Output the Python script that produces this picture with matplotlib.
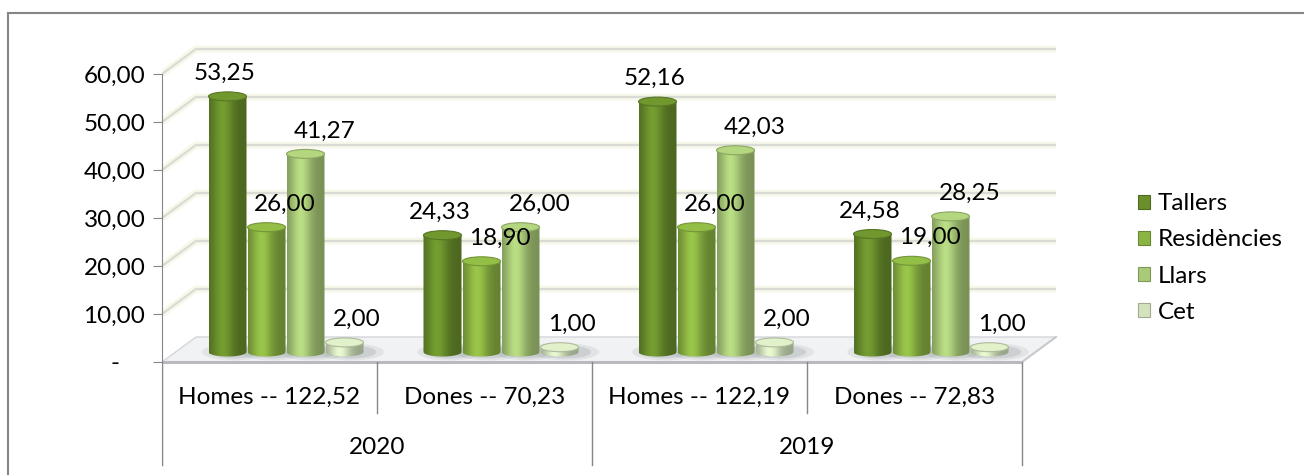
import numpy as np
import matplotlib
matplotlib.use("Agg")
import matplotlib.pyplot as plt
from matplotlib.patches import Ellipse, PathPatch, Patch, Polygon
from matplotlib.path import Path
from matplotlib.lines import Line2D
from matplotlib.colors import to_rgb

# data
categories = ["Homes -- 122,52", "Dones -- 70,23", "Homes -- 122,19", "Dones -- 72,83"]
years = ["2020", "2019"]
series = ["Tallers", "Residències", "Llars", "Cet"]
tallers = [53.25, 24.33, 52.16, 24.58]
residencies = [26.00, 18.90, 26.00, 19.00]
llars = [41.27, 26.00, 42.03, 28.25]
cet = [2.00, 1.00, 2.00, 1.00]
yticks = [0, 10, 20, 30, 40, 50, 60]
ytick_labels = ["-    ", "10,00", "20,00", "30,00", "40,00", "50,00", "60,00"]

values = [tallers, residencies, llars, cet]
colors = ["#6a8f2c", "#8cb443", "#a9ca78", "#d4e3be"]
label_dx = [-3, 18, 19, 12]   # px, label shift from bar centre

FS = 17.5
plt.rcParams['font.family'] = ['Lato', 'DejaVu Sans']
plt.rcParams['font.size'] = FS

W, H = 1304, 475
PX = 215.0   # px per category
PY = 4.8     # px per value unit
DX, DY = 34 / PX, 25 / PY          # 3d depth
BW, BS, BOFF = 38 / PX, 39 / PX, 16.5 / PX
B0, CAP = 10 / PY, 9 / PY
grey = "#868686"

fig = plt.figure(figsize=(W / 100, H / 100), dpi=100)
ax = fig.add_axes([162 / W, 1 - 468 / H, (1060 - 162) / W, 428 / H])
ax.set_xlim(0, (1060 - 162) / PX)
ax.set_ylim(-(468 - 362) / PY, (362 - 40) / PY)

# outer frame (top/left visible)
fig.add_artist(Line2D([8 / W, 8 / W], [0, 1 - 13 / H], transform=fig.transFigure, color=grey, lw=1.5))
fig.add_artist(Line2D([8 / W, 1], [1 - 13 / H, 1 - 13 / H], transform=fig.transFigure, color=grey, lw=1.5))

n = len(categories)

# floor
ax.add_patch(Polygon([(0, 0), (n, 0), (n + DX, DY), (DX, DY)], closed=True,
                     facecolor="#f1f2f4", edgecolor="#d4d6da", lw=1, zorder=1))
ax.plot([0, n], [0, 0], color="#b8babe", lw=2.2, zorder=2, solid_capstyle="butt")
ax.plot([n, n + DX], [0, DY], color="#c8cace", lw=1.5, zorder=2)

# walls gridlines
for v in yticks[1:]:
    xs = [0, DX, n + DX]
    ys = [v, v + DY, v + DY]
    ax.plot(xs, ys, color="#f7f8ea", lw=5, zorder=0.5, solid_capstyle="butt")
    ax.plot(xs, ys, color="#d9dbd5", lw=1.6, zorder=0.6, solid_capstyle="butt")


def shade(c, f):
    return np.clip(np.array(to_rgb(c)) * f, 0, 1)


t = np.linspace(0, 1, 64)
prof = 0.72 + 0.38 * np.exp(-((t - 0.36) / 0.28) ** 2)


def cylinder(xc, base, h, color):
    x0, x1 = xc - BW / 2, xc + BW / 2
    top = base + h
    # shadow
    for k, a in [(1.7, 0.12), (1.3, 0.18)]:
        ax.add_patch(Ellipse((xc + 7 / PX, base), BW * k, CAP * k * 1.1,
                             facecolor="#6f7a80", alpha=a, edgecolor="none", zorder=2.5))
    th = np.linspace(np.pi, 2 * np.pi, 40)
    arc = np.column_stack([xc + BW / 2 * np.cos(th), base + CAP / 2 * np.sin(th)])
    verts = np.vstack([[x0, top], arc, [x1, top], [x0, top]])
    codes = [Path.MOVETO] + [Path.LINETO] * (len(verts) - 2) + [Path.CLOSEPOLY]
    body = PathPatch(Path(verts, codes), facecolor="none", edgecolor="none", zorder=3)
    ax.add_patch(body)
    grad = np.array([[shade(color, f) for f in prof]])
    im = ax.imshow(grad, extent=[x0, x1, base - CAP / 2, top], aspect="auto",
                   interpolation="bilinear", zorder=3)
    im.set_clip_path(body)
    ax.add_patch(Ellipse((xc, top), BW, CAP, facecolor=shade(color, 1.06),
                         edgecolor=shade(color, 0.82), lw=0.8, zorder=3.5))
    return top


for i in range(n):
    gc = i + 0.5 + BOFF
    for s in range(len(series)):
        xc = gc + (s - 1.5) * BS
        v = values[s][i]
        top = cylinder(xc, B0, v, colors[s])
        ax.annotate(f"{v:.2f}".replace(".", ","), xy=(xc + label_dx[s] / PX, top),
                    xytext=(0, 23 * 0.72), textcoords="offset points",
                    ha="center", va="center", zorder=5)

# category axis
for i, c in enumerate(categories):
    ax.text(i + 0.5, -(397 - 362) / PY, c, ha="center", va="center")
for j, yv in enumerate(years):
    ax.text(2 * j + 1, -(448 - 362) / PY, yv, ha="center", va="center")
for k in range(n + 1):
    low = -(465 - 362) / PY if k % 2 == 0 else -(413 - 362) / PY
    ax.plot([k, k], [0, low], color=grey, lw=1, zorder=2)

ax.set_xticks([])
ax.set_yticks(yticks)
ax.set_yticklabels(ytick_labels)
for sp in ["top", "right", "bottom"]:
    ax.spines[sp].set_visible(False)
ax.spines["left"].set_bounds(-(465 - 362) / PY, 60)
ax.spines["left"].set_color(grey)
ax.tick_params(axis="y", direction="out", length=6.5, color=grey, pad=5.5, labelsize=FS)
ax.patch.set_alpha(0)

handles = [Patch(facecolor=colors[s], edgecolor=shade(colors[s], 0.75), lw=0.8) for s in range(len(series))]
fig.legend(handles, series, loc="center left", bbox_to_anchor=(1138 / W, 1 - 258 / H),
           frameon=False, borderpad=0, borderaxespad=0, handlelength=0.5, handleheight=0.5,
           handletextpad=0.3, labelspacing=0.62, fontsize=FS)

fig.savefig("out.png", dpi=100)
